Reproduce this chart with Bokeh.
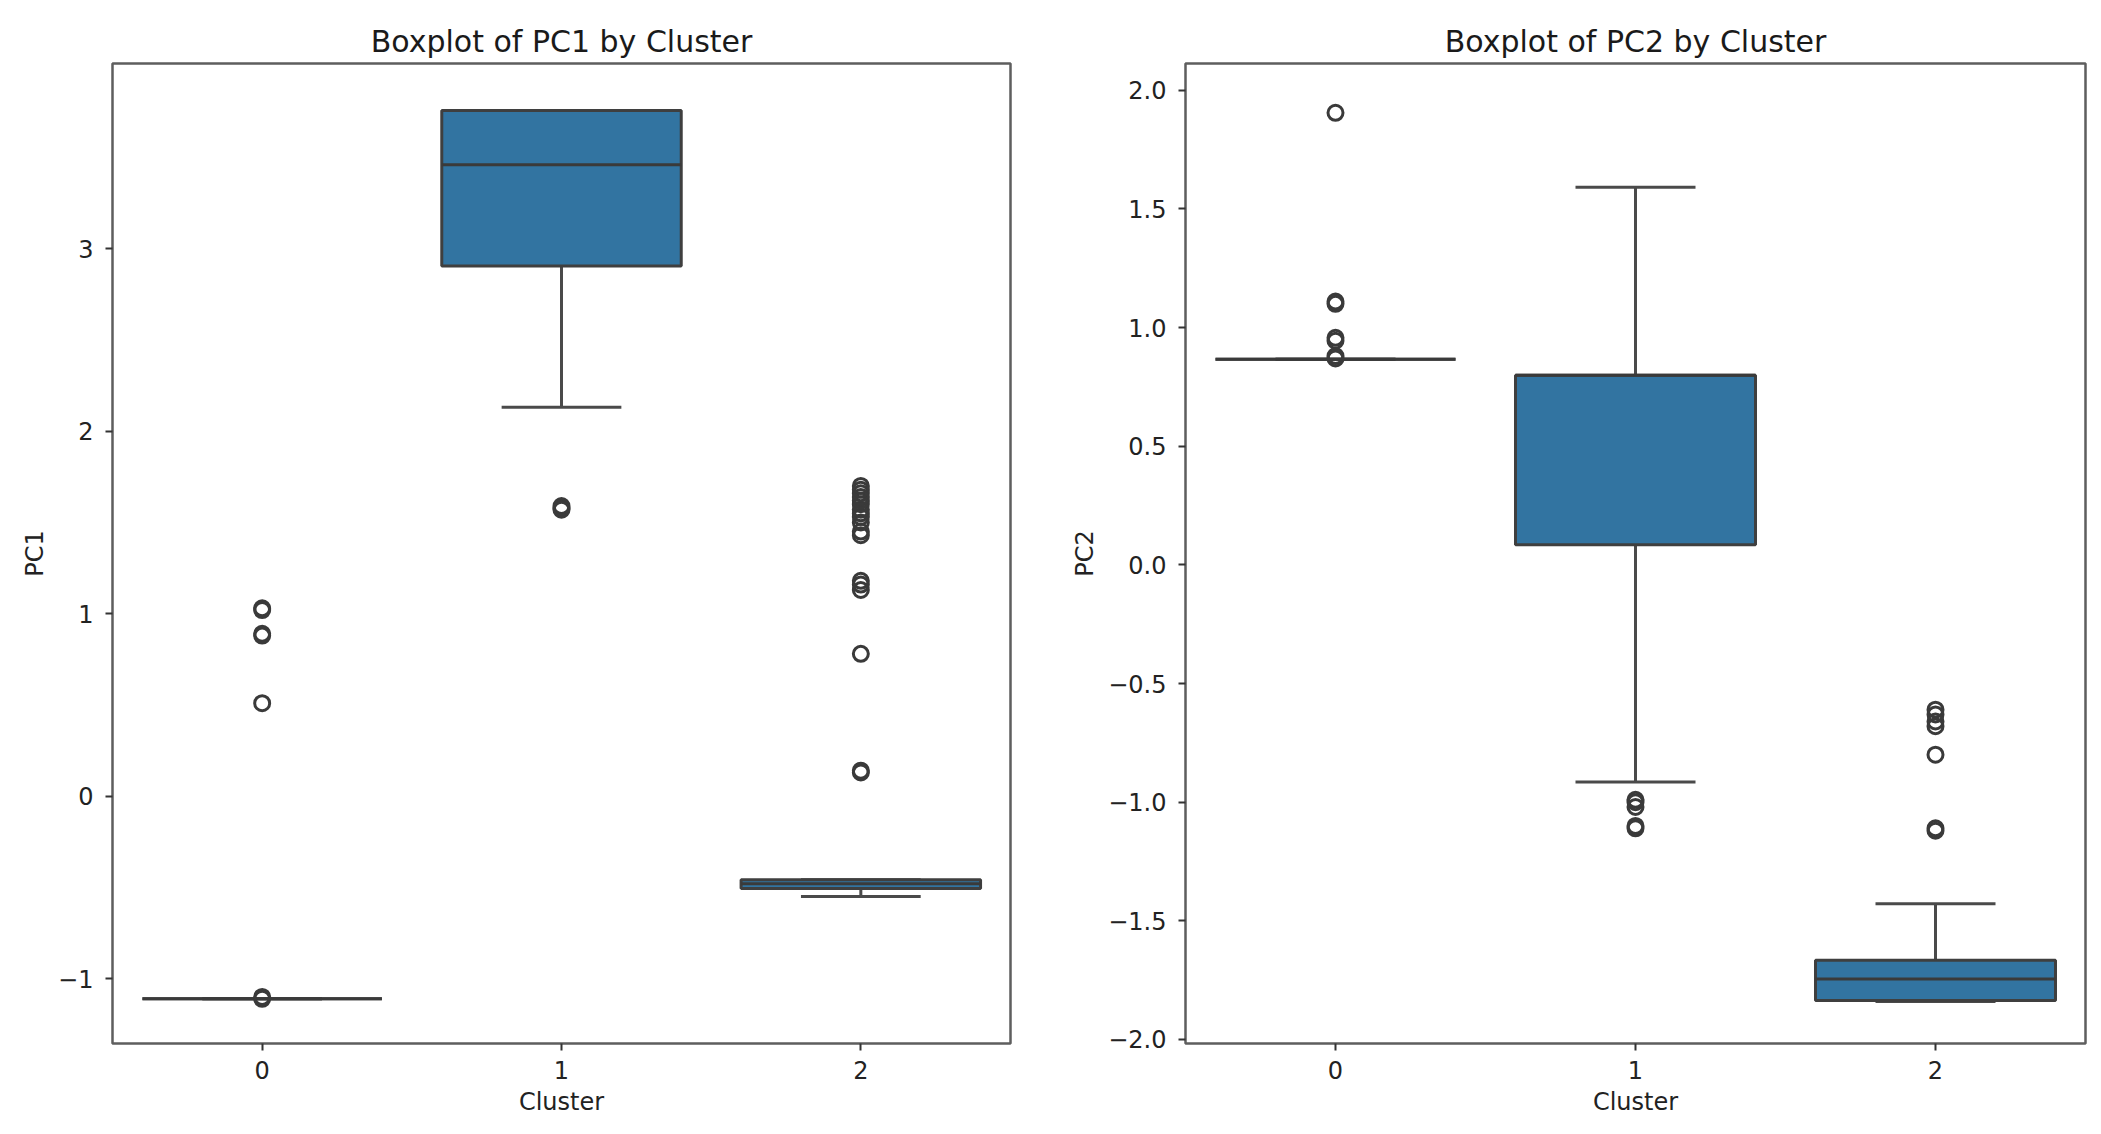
from bokeh.plotting import figure
from bokeh.layouts import row
from bokeh.models import FixedTicker, ColumnDataSource, Range1d
from bokeh.embed import file_html
from bokeh.resources import INLINE

# ---- data ----
clusters = [0, 1, 2]
tick_labels_x = ["0", "1", "2"]

# PC1 box statistics per cluster
pc1_q1 = [-1.11, 2.905, -0.505]
pc1_med = [-1.11, 3.46, -0.48]
pc1_q3 = [-1.11, 3.758, -0.458]
pc1_lo = [-1.11, 2.132, -0.55]
pc1_hi = [-1.11, 3.758, -0.458]
pc1_out_c0 = [1.03, 1.02, 0.89, 0.88, 0.51, -1.11, -1.10]
pc1_out_c1 = [1.59, 1.58, 1.57]
pc1_out_c2 = [0.13, 0.14, 0.78, 1.13, 1.16, 1.18, 1.43, 1.45, 1.50, 1.53,
              1.55, 1.57, 1.60, 1.62, 1.64, 1.66, 1.68, 1.70]

# PC2 box statistics per cluster
pc2_q1 = [0.867, 0.085, -1.836]
pc2_med = [0.867, 0.799, -1.745]
pc2_q3 = [0.867, 0.799, -1.666]
pc2_lo = [0.867, -0.915, -1.84]
pc2_hi = [0.867, 1.592, -1.428]
pc2_out_c0 = [1.905, 1.11, 1.10, 0.957, 0.945, 0.88, 0.87]
pc2_out_c1 = [-0.99, -1.0, -1.02, -1.10, -1.11]
pc2_out_c2 = [-0.61, -0.63, -0.66, -0.68, -0.80, -1.11, -1.12]

pc1_ticks = [-1, 0, 1, 2, 3]
pc1_tick_labels = ["\u22121", "0", "1", "2", "3"]
pc2_ticks = [-2.0, -1.5, -1.0, -0.5, 0.0, 0.5, 1.0, 1.5, 2.0]
pc2_tick_labels = ["\u22122.0", "\u22121.5", "\u22121.0", "\u22120.5", "0.0", "0.5", "1.0", "1.5", "2.0"]

BOX_FILL = "#3274a1"
LINE = "#4a4a4a"
FONT = "DejaVu Sans"


def panel(title, ylabel, q1, med, q3, lo, hi, outs, yrange, yticks, ylabels,
          width, bl, br):
    p = figure(width=width, height=1125, output_backend="svg", toolbar_location=None,
               x_range=Range1d(-0.5, 2.5), y_range=Range1d(*yrange),
               min_border_left=bl, min_border_right=br,
               min_border_top=63, min_border_bottom=82,
               background_fill_color="white", border_fill_color="white")
    p.xgrid.visible = False
    p.ygrid.visible = False
    p.outline_line_color = "#5e5e5e"
    p.outline_line_width = 2.5

    p.title.text = title
    p.title.align = "center"
    p.title.text_font = FONT
    p.title.text_font_size = "30px"
    p.title.text_font_style = "normal"
    p.title.text_color = "#1a1a1a"

    for ax in (p.xaxis[0], p.yaxis[0]):
        ax.axis_line_color = None
        ax.major_tick_line_color = "#333333"
        ax.major_tick_line_width = 2
        ax.major_tick_out = 7
        ax.major_tick_in = 0
        ax.minor_tick_line_color = None
        ax.major_label_text_font = FONT
        ax.major_label_text_font_size = "24px"
        ax.major_label_text_color = "#222222"
        ax.axis_label_text_font = FONT
        ax.axis_label_text_font_size = "24px"
        ax.axis_label_text_font_style = "normal"
        ax.axis_label_text_color = "#222222"

    p.xaxis.ticker = FixedTicker(ticks=clusters)
    p.xaxis.major_label_overrides = {c: t for c, t in zip(clusters, tick_labels_x)}
    p.xaxis.axis_label = "Cluster"
    p.xaxis.major_label_standoff = 10
    p.xaxis.axis_label_standoff = 6

    p.yaxis.ticker = FixedTicker(ticks=yticks)
    p.yaxis.major_label_overrides = {t: l for t, l in zip(yticks, ylabels)}
    p.yaxis.axis_label = ylabel
    p.yaxis.major_label_standoff = 12
    p.yaxis.axis_label_standoff = 6

    src = ColumnDataSource(dict(
        x=clusters, q1=q1, med=med, q3=q3, lo=lo, hi=hi,
        bx0=[c - 0.4 for c in clusters], bx1=[c + 0.4 for c in clusters],
        cx0=[c - 0.2 for c in clusters], cx1=[c + 0.2 for c in clusters],
    ))
    # whiskers
    p.segment(x0="x", y0="q3", x1="x", y1="hi", source=src, line_color=LINE, line_width=3)
    p.segment(x0="x", y0="q1", x1="x", y1="lo", source=src, line_color=LINE, line_width=3)
    # caps
    p.segment(x0="cx0", y0="hi", x1="cx1", y1="hi", source=src, line_color=LINE, line_width=3)
    p.segment(x0="cx0", y0="lo", x1="cx1", y1="lo", source=src, line_color=LINE, line_width=3)
    # boxes
    p.quad(left="bx0", right="bx1", bottom="q1", top="q3", source=src,
           fill_color=BOX_FILL, line_color="#3f3f3f", line_width=3)
    # medians
    p.segment(x0="bx0", y0="med", x1="bx1", y1="med", source=src, line_color="#3a3a3a", line_width=3)

    # outliers
    ox, oy = [], []
    for c, vals in zip(clusters, outs):
        ox += [c] * len(vals)
        oy += list(vals)
    p.scatter(x=ox, y=oy, marker="circle", size=15, fill_color=None,
              line_color="#3a3a3a", line_width=3)
    return p


p1 = panel("Boxplot of PC1 by Cluster", "PC1", pc1_q1, pc1_med, pc1_q3, pc1_lo, pc1_hi,
           [pc1_out_c0, pc1_out_c1, pc1_out_c2], (-1.355, 4.015), pc1_ticks, pc1_tick_labels,
           1060, 112, 50)
p2 = panel("Boxplot of PC2 by Cluster", "PC2", pc2_q1, pc2_med, pc2_q3, pc2_lo, pc2_hi,
           [pc2_out_c0, pc2_out_c1, pc2_out_c2], (-2.017, 2.113), pc2_ticks, pc2_tick_labels,
           1037, 125, 12)

layout = row(p1, p2)
open("out.html", "w").write(file_html(layout, INLINE))
